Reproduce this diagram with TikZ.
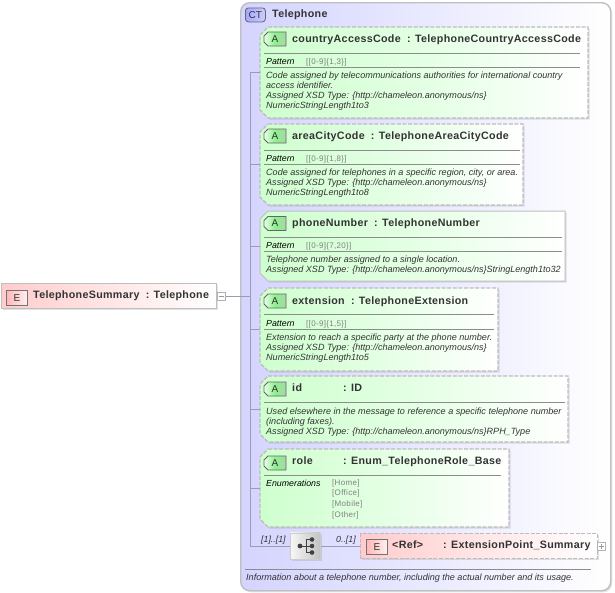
\documentclass[tikz,border=0pt]{standalone}
\usepackage{fontspec}
\setmainfont{Liberation Sans}
\newfontfamily\ttlfont[LetterSpace=3]{Liberation Sans}
\newfontfamily\valfont[LetterSpace=4]{Liberation Sans}
\usetikzlibrary{shadows,calc}
\definecolor{txt}{HTML}{333333}
\definecolor{dashc}{HTML}{BCBCBC}
\definecolor{trunkc}{HTML}{9C9CAE}
\definecolor{sepc}{HTML}{8C8C8C}
\definecolor{gleft}{HTML}{CEFFCE}
\definecolor{gmid}{HTML}{E4FFE4}
\definecolor{bl}{HTML}{E8FFE8}
\definecolor{bm}{HTML}{8CF08C}
\definecolor{br}{HTML}{A8D8A8}
\tikzset{
  x=1pt,y=-1pt,
  softshadow/.style={drop shadow={shadow xshift=1.6pt,shadow yshift=-1.6pt,opacity=.25,fill=black!45}},
  attrfill/.style={left color=gleft,right color=white,middle color=gmid,softshadow},
  optbox/.style={attrfill,draw=dashc,line width=1.2pt,dash pattern=on 4pt off 1.6pt},
  reqbox/.style={attrfill,draw=black!25,line width=1pt},
  abadge/.style={draw=black!60,line width=.8pt,shade,shading=axis,left color=bl,right color=br,middle color=bm},
  ebadge/.style={rectangle,anchor=north west,inner sep=0pt,minimum width=21pt,minimum height=14.5pt,
    draw=black!55,line width=.8pt,left color=red!28!white,right color=red!6!white,
    font=\fontsize{10}{10}\selectfont,text=txt},
  ttl/.style={anchor=base west,inner sep=0pt,text=txt,font=\ttlfont\bfseries\fontsize{10.7}{11}\selectfont},
  lbl/.style={anchor=base west,inner sep=0pt,text=black,font=\itshape\fontsize{8.8}{10}\selectfont},
  val/.style={anchor=base west,inner sep=0pt,text=black!50,font=\valfont\fontsize{8}{10}\selectfont},
  dsc/.style={anchor=base west,inner sep=0pt,text=txt,font=\itshape\fontsize{9.05}{10}\selectfont},
  sepl/.style={draw=sepc,line width=.7pt},
  wire/.style={draw=trunkc,line width=.8pt},
  expander/.style={rectangle,draw=black!30,fill=white,minimum size=8pt,inner sep=0pt,line width=.6pt},
  ghost/.style={rectangle,anchor=north west,inner sep=0pt,outer sep=0pt},
}
% \chamf{name}{x}{y}{w}{h}{chamfer}{style}{text}
\newcommand{\chamf}[8]{%
  \path[#7] (#2+#6,#3) -- (#2+#4,#3) -- (#2+#4,#3+#5) -- (#2+#6,#3+#5) -- (#2,#3+#5-#6) -- (#2,#3+#6) -- cycle;
  \node[ghost,minimum width=#4pt,minimum height=#5pt,text=txt,font=\fontsize{10}{10}\selectfont] (#1) at (#2,#3) {#8};
}
\begin{document}
\begin{tikzpicture}
\useasboundingbox (0,0) rectangle (615,592);
% complex type
\node[rectangle,rounded corners=9pt,anchor=north west,inner sep=0pt,minimum width=370pt,minimum height=588pt,
  draw=black!25,line width=1.4pt,left color=blue!17!white,right color=white,softshadow] (ct) at (240,2) {};
\node[rectangle,rounded corners=3pt,anchor=north west,inner sep=0pt,minimum width=20pt,minimum height=14pt,
  draw=black!60,line width=.8pt,left color=blue!35!white,right color=blue!20!white,text=txt,font=\fontsize{10}{10}\selectfont] (ctb) at (245,7.5) {CT};
\node[ttl] (cttitle) at (272,17) {Telephone};
% element
\node[rectangle,anchor=north west,inner sep=0pt,minimum width=215pt,minimum height=25pt,
  draw=black!25,line width=1.2pt,left color=red!20!white,right color=white,softshadow] (el) at (1,283) {};
\node[ebadge] (elb) at (6,290) {E};
\node[ttl] (eltitle) at (33,298.5) {TelephoneSummary\hspace{3pt} : Telephone};
\node[expander,anchor=west] (elx) at (217,296) {};
\draw[draw=black!40,line width=.7pt] (elx.west) ++(1.5,0) -- ++(5,0);
\coordinate (trunk) at (250,296);
% attribute boxes
\chamf{b1}{260}{27}{328}{91}{8}{optbox}{}
\chamf{b2}{260}{124}{263}{81}{8}{optbox}{}
\chamf{b3}{260}{211}{305}{70}{8}{reqbox}{}
\chamf{b4}{260}{288}{238}{83}{8}{optbox}{}
\chamf{b5}{260}{376}{308}{66}{8}{optbox}{}
\chamf{b6}{260}{449}{249}{78}{8}{optbox}{}
% compositor and reference
\node[rectangle,anchor=north west,inner sep=0pt,minimum width=30pt,minimum height=26pt,draw=black!20,line width=.8pt,
  left color=black!3,right color=black!24,softshadow] (seq) at (290,532.5) {};
\node[rectangle,anchor=north west,inner sep=0pt,minimum width=237pt,minimum height=25pt,
  draw=dashc,line width=1.2pt,dash pattern=on 4pt off 1.6pt,left color=red!20!white,right color=white,softshadow] (ref) at (360,533) {};
\node[ebadge] (refb) at (366,539) {E};
\node[ttl] (reftitle) at (392,548.5) {<Ref>};
\node[ttl] (reftype) at (443,548.5) {: ExtensionPoint\_Summary};
\node[expander,anchor=west] (refx) at (597,546) {};
\draw[draw=black!40,line width=.6pt] (refx.center) ++(-2.5,0) -- ++(5,0) (refx.center) ++(0,-2.5) -- ++(0,5);
% connectors
\draw[wire] (elx.east) -- (trunk);
\coordinate (trunkbot) at (250,546);
\draw[wire] (trunk |- b1.west) -- (trunkbot) -- (seq.west |- trunkbot);
\foreach \b in {b1,b2,b3,b4,b5,b6}{\draw[wire] (trunk |- \b.west) -- (\b.west);}
\draw[wire] (seq.east |- trunkbot) -- (ref.west |- trunkbot);
% compositor icon
\fill[black!75] (300,546) circle (2.4pt);
\draw[black!75,line width=.8pt] (300,546) -- (306,546) (306,539.5) -- (306,552.5) (306,539.5) -- (311,539.5) (306,546) -- (311,546) (306,552.5) -- (311,552.5);
\fill[black!75] (312,539.5) circle (2.3pt) (312,546) circle (2.3pt) (312,552.5) circle (2.3pt);
\node[lbl,text=txt] (m1) at (261,542) {[1]..[1]};
\node[lbl,text=txt] (m2) at (336,542) {0..[1]};
% box 1
\chamf{a1}{264}{32}{22}{14}{4}{abadge}{A}
\node[ttl] (t1) at (292,42) {countryAccessCode\hspace{3pt} : TelephoneCountryAccessCode};
\draw[sepl] (264,53) -- (580,53) (264,67.5) -- (580,67.5);
\node[lbl] (p1) at (266,64) {Pattern};
\node[val] (v1) at (306,64) {[[0-9]\{1,3\}]};
\node[dsc] (d1a) at (266,78) {Code assigned by telecommunications authorities for international country};
\node[dsc] (d1b) at (266,88) {access identifier.};
\node[dsc] (d1c) at (266,98) {Assigned XSD Type: \{http://chameleon.anonymous/ns\}};
\node[dsc] (d1d) at (266,108) {NumericStringLength1to3};
% box 2
\chamf{a2}{264}{129}{22}{14}{4}{abadge}{A}
\node[ttl] (t2) at (292,139) {areaCityCode\hspace{3pt} : TelephoneAreaCityCode};
\draw[sepl] (264,150) -- (520,150) (264,164.5) -- (520,164.5);
\node[lbl] (p2) at (266,161) {Pattern};
\node[val] (v2) at (306,161) {[[0-9]\{1,8\}]};
\node[dsc] (d2a) at (266,175) {Code assigned for telephones in a specific region, city, or area.};
\node[dsc] (d2b) at (266,185) {Assigned XSD Type: \{http://chameleon.anonymous/ns\}};
\node[dsc] (d2c) at (266,195) {NumericStringLength1to8};
% box 3
\chamf{a3}{264}{216.5}{22}{14}{4}{abadge}{A}
\node[ttl] (t3) at (292,226) {phoneNumber\hspace{3pt} : TelephoneNumber};
\draw[sepl] (264,237) -- (562,237) (264,251.5) -- (562,251.5);
\node[lbl] (p3) at (266,248) {Pattern};
\node[val] (v3) at (306,248) {[[0-9]\{7,20\}]};
\node[dsc] (d3a) at (266,262) {Telephone number assigned to a single location.};
\node[dsc] (d3b) at (266,272) {Assigned XSD Type: \{http://chameleon.anonymous/ns\}StringLength1to32};
% box 4
\chamf{a4}{264}{294}{22}{14}{4}{abadge}{A}
\node[ttl] (t4) at (292,304) {extension\hspace{3pt} : TelephoneExtension};
\draw[sepl] (264,314.5) -- (494,314.5) (264,329) -- (494,329);
\node[lbl] (p4) at (266,326) {Pattern};
\node[val] (v4) at (306,326) {[[0-9]\{1,5\}]};
\node[dsc] (d4a) at (266,340) {Extension to reach a specific party at the phone number.};
\node[dsc] (d4b) at (266,350) {Assigned XSD Type: \{http://chameleon.anonymous/ns\}};
\node[dsc] (d4c) at (266,360) {NumericStringLength1to5};
% box 5
\chamf{a5}{264}{382}{22}{14}{4}{abadge}{A}
\node[ttl] (t5) at (292,391) {id};
\node[ttl] (t5b) at (343,391) {: ID};
\draw[sepl] (264,402.5) -- (565,402.5);
\node[dsc] (d5a) at (266,414) {Used elsewhere in the message to reference a specific telephone number};
\node[dsc] (d5b) at (266,424) {(including faxes).};
\node[dsc] (d5c) at (266,434) {Assigned XSD Type: \{http://chameleon.anonymous/ns\}RPH\_Type};
% box 6
\chamf{a6}{264}{456}{22}{14}{4}{abadge}{A}
\node[ttl] (t6) at (292,464.5) {role};
\node[ttl] (t6b) at (343,464.5) {: Enum\_TelephoneRole\_Base};
\draw[sepl] (264,475.5) -- (501,475.5);
\node[lbl] (p6) at (266,486) {Enumerations};
\node[val] (v6a) at (332,485.5) {[Home]};
\node[val] (v6b) at (332,495.5) {[Office]};
\node[val] (v6c) at (332,506.5) {[Mobile]};
\node[val] (v6d) at (332,517) {[Other]};
% footer
\draw[sepl] (245,569) -- (591,569);
\node[dsc] (foot) at (246,580) {Information about a telephone number, including the actual number and its usage.};
\end{tikzpicture}
\end{document}
